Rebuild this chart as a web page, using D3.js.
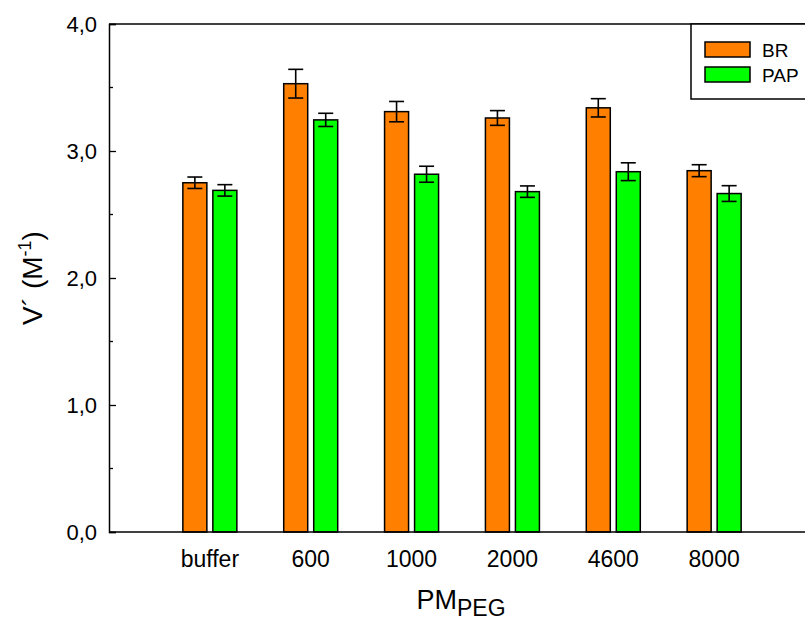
<!DOCTYPE html>
<html>
<head>
<meta charset="utf-8">
<script src="https://cdn.jsdelivr.net/npm/d3@7"></script>
<style>
  body { margin: 0; background: #fff; }
  svg { display: block; font-family: "Liberation Sans", Arial, sans-serif; }
</style>
</head>
<body>
<div id="chart"></div>
<script>
// data
var categories = ["buffer", "600", "1000", "2000", "4600", "8000"];
var seriesNames = ["BR", "PAP"];
var brValues = [2.75, 3.53, 3.31, 3.26, 3.34, 2.845];
var brErrors = [0.045, 0.113, 0.08, 0.058, 0.072, 0.047];
var papValues = [2.69, 3.245, 2.817, 2.68, 2.837, 2.665];
var papErrors = [0.045, 0.052, 0.063, 0.045, 0.07, 0.062];
var yTicks = [0, 1, 2, 3, 4];
var yMinorTicks = [0.5, 1.5, 2.5, 3.5];
var colors = ["#ff8000", "#00ff00"];

var width = 805, height = 623;
var margin = { top: 24, right: 0, bottom: 91, left: 109 };

var svg = d3.select("#chart")
    .append("svg")
    .attr("width", width)
    .attr("height", height);

var x = d3.scaleLinear()
    .domain([0, 7])
    .range([margin.left, 815]);

var y = d3.scaleLinear()
    .domain([0, 4])
    .range([height - margin.bottom, margin.top]);

var barW = 24, gap = 6;

var rows = [];
categories.forEach(function (c, i) {
    rows.push({ cat: i, s: 0, v: brValues[i], e: brErrors[i] });
    rows.push({ cat: i, s: 1, v: papValues[i], e: papErrors[i] });
});
function barX(d) {
    return x(d.cat + 1) + (d.s === 0 ? -barW - gap / 2 : gap / 2);
}

// bars
svg.append("g").selectAll("rect")
    .data(rows)
    .enter().append("rect")
    .attr("x", barX)
    .attr("y", function (d) { return y(d.v); })
    .attr("width", barW)
    .attr("height", function (d) { return y(0) - y(d.v); })
    .attr("fill", function (d) { return colors[d.s]; })
    .attr("stroke", "#000")
    .attr("stroke-width", 1.5);

// error bars
var eb = svg.append("g").attr("stroke", "#000").attr("stroke-width", 1.6);
rows.forEach(function (d) {
    var cx = barX(d) + barW / 2;
    eb.append("line").attr("x1", cx).attr("x2", cx)
        .attr("y1", y(d.v + d.e)).attr("y2", y(d.v - d.e));
    [d.v + d.e, d.v - d.e].forEach(function (v) {
        eb.append("line").attr("x1", cx - 7.5).attr("x2", cx + 7.5)
            .attr("y1", y(v)).attr("y2", y(v));
    });
});

// frame
svg.append("line").attr("x1", x(0)).attr("x2", width)
    .attr("y1", y(4)).attr("y2", y(4)).attr("stroke", "#000").attr("stroke-width", 1.5);
svg.append("line").attr("x1", x(0)).attr("x2", width)
    .attr("y1", y(0)).attr("y2", y(0)).attr("stroke", "#000").attr("stroke-width", 1.5);

// y axis
var yAxis = svg.append("g")
    .attr("transform", "translate(" + x(0) + ",0)")
    .call(d3.axisRight(y).tickValues(yTicks).tickSize(7)
        .tickFormat(function (d) { return d3.format(".1f")(d).replace(".", ","); }));
yAxis.attr("font-size", 22).attr("font-family", "Liberation Sans, Arial, sans-serif");
yAxis.select(".domain").attr("stroke", "#000").attr("stroke-width", 1.5);
yAxis.selectAll(".tick line").attr("stroke-width", 1.3);
yAxis.selectAll(".tick text")
    .attr("x", -12)
    .attr("text-anchor", "end")
    .attr("fill", "#000");
svg.append("g").selectAll("line")
    .data(yMinorTicks)
    .enter().append("line")
    .attr("x1", x(0)).attr("x2", x(0) + 4)
    .attr("y1", function (d) { return y(d); })
    .attr("y2", function (d) { return y(d); })
    .attr("stroke", "#000").attr("stroke-width", 1.3);

// x tick labels
svg.append("g").selectAll("text")
    .data(categories)
    .enter().append("text")
    .attr("x", function (d, i) { return x(i + 1); })
    .attr("y", 567)
    .attr("text-anchor", "middle")
    .attr("font-size", 23)
    .text(function (d) { return d; });

// axis titles
var xt = svg.append("text")
    .attr("x", 461)
    .attr("y", 609)
    .attr("text-anchor", "middle")
    .attr("font-size", 27);
xt.append("tspan").text("PM");
xt.append("tspan").attr("font-size", 23).attr("dy", 7).text("PEG");

var yt = svg.append("text")
    .attr("transform", "translate(42," + y(2) + ") rotate(-90)")
    .attr("text-anchor", "middle")
    .attr("font-size", 28);
yt.append("tspan").text("V´ (M");
yt.append("tspan").attr("font-size", 18).attr("dy", -11).text("-1");
yt.append("tspan").attr("dy", 11).text(")");

// legend
var lg = svg.append("g");
lg.append("rect")
    .attr("x", 691).attr("y", 24)
    .attr("width", 130).attr("height", 75)
    .attr("fill", "#fff").attr("stroke", "#000").attr("stroke-width", 1.5);
seriesNames.forEach(function (s, i) {
    lg.append("rect")
        .attr("x", 705).attr("y", 42 + i * 25)
        .attr("width", 45).attr("height", 15)
        .attr("fill", colors[i]).attr("stroke", "#000").attr("stroke-width", 1.5);
    lg.append("text")
        .attr("x", 762).attr("y", 57 + i * 24.5)
        .attr("font-size", 19)
        .text(s);
});
</script>
</body>
</html>
